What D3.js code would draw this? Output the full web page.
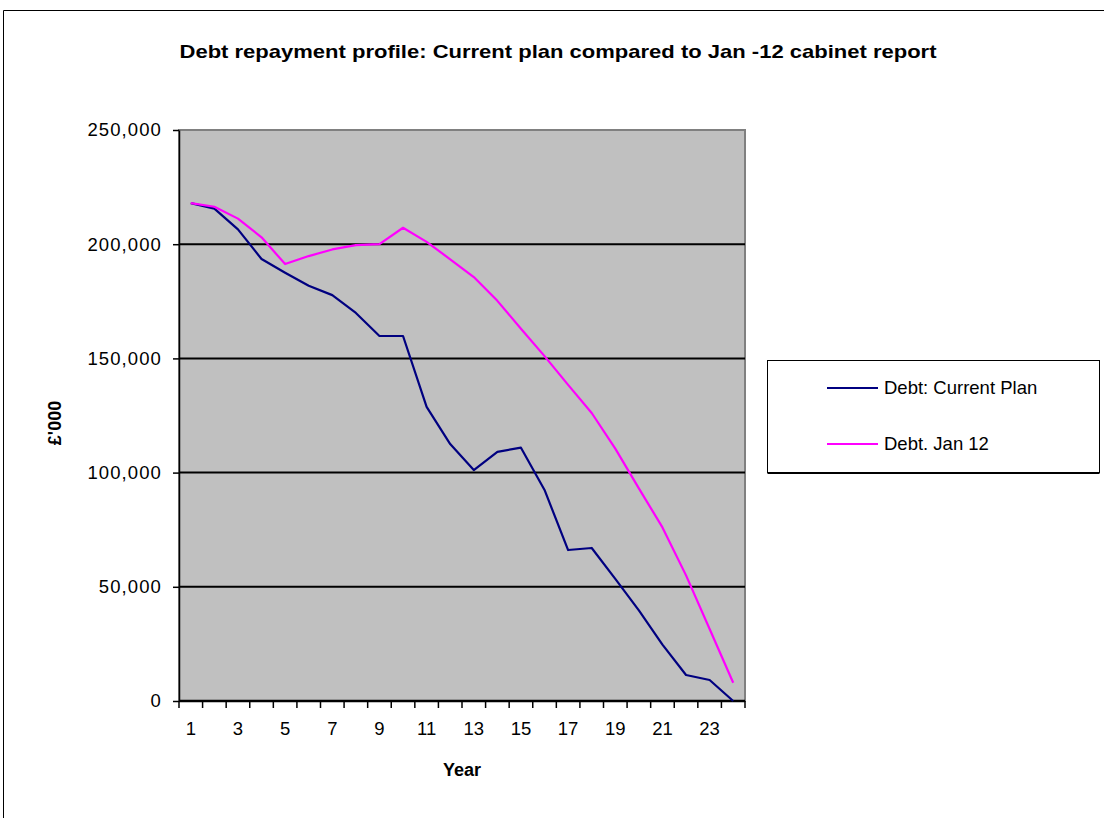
<!DOCTYPE html>
<html>
<head>
<meta charset="utf-8">
<script src="https://cdn.jsdelivr.net/npm/d3@7"></script>
<style>
  body { margin: 0; background: #fff; }
  text { font-family: "Liberation Sans", Arial, sans-serif; }
</style>
</head>
<body>
<div id="chart"></div>
<script>
const years = d3.range(1, 25);
const yTicks = [0, 50000, 100000, 150000, 200000, 250000];
const currentPlan = [218000, 215600, 206500, 193500, 187500, 181800, 177700, 169900, 159800, 159800,
  128800, 112500, 101100, 109100, 110900, 92400, 66100, 67000, 53500, 39700, 24700, 11400, 9200, 0];
const jan12 = [218000, 216400, 211200, 203000, 191300, 194800, 197700, 199600, 200000, 207200,
  201000, 193400, 185600, 175200, 163000, 151000, 138400, 126100, 110500, 93100, 76000, 55000, 31500, 8000];
const seriesNames = ['Debt: Current Plan', 'Debt. Jan 12'];
const colors = ['#000080', '#ff00ff'];

const W = 1104, H = 818;
const plot = { left: 179, top: 130, right: 745, bottom: 701 };

const svg = d3.select('#chart').append('svg')
  .attr('width', W)
  .attr('height', H);

// outer chart frame (clipped)
svg.append('path')
  .attr('d', `M3.5,${H} V10.5 H${W}`)
  .attr('fill', 'none')
  .attr('stroke', '#000')
  .attr('stroke-width', 1);

const x = d3.scaleBand()
  .domain(years)
  .range([plot.left, plot.right])
  .padding(0);

const y = d3.scaleLinear()
  .domain([0, 250000])
  .range([plot.bottom, plot.top]);

// plot background
svg.append('rect')
  .attr('x', plot.left)
  .attr('y', plot.top)
  .attr('width', plot.right - plot.left)
  .attr('height', plot.bottom - plot.top)
  .attr('fill', '#c0c0c0')
  .attr('stroke', '#808080')
  .attr('stroke-width', 2);

// gridlines
svg.append('g')
  .selectAll('line')
  .data(yTicks.filter(d => d > 0 && d < 250000))
  .enter().append('line')
  .attr('x1', plot.left)
  .attr('x2', plot.right)
  .attr('y1', d => y(d))
  .attr('y2', d => y(d))
  .attr('stroke', '#000')
  .attr('stroke-width', 2);

// y axis
const yAxis = svg.append('g')
  .attr('transform', `translate(${plot.left},0)`)
  .call(d3.axisLeft(y).tickValues(yTicks).tickFormat(d3.format(',')).tickSize(6).tickSizeOuter(0));
yAxis.select('.domain').attr('stroke', '#000').attr('stroke-width', 1.5);
yAxis.selectAll('.tick line').attr('stroke', '#000').attr('stroke-width', 1.5);
yAxis.selectAll('.tick text')
  .attr('x', -17)
  .attr('font-size', 18.5)
  .attr('letter-spacing', 1.1)
  .attr('font-family', '"Liberation Sans", Arial, sans-serif')
  .attr('fill', '#000');

// x axis: ticks between categories, labels on odd years
const xAxis = svg.append('g')
  .attr('transform', `translate(0,${plot.bottom})`);
xAxis.append('line')
  .attr('x1', plot.left)
  .attr('x2', plot.right)
  .attr('stroke', '#000')
  .attr('stroke-width', 2.5);
xAxis.selectAll('line.tk')
  .data(years.concat([25]))
  .enter().append('line')
  .attr('class', 'tk')
  .attr('x1', d => d <= 24 ? x(d) : plot.right)
  .attr('x2', d => d <= 24 ? x(d) : plot.right)
  .attr('y1', 0)
  .attr('y2', 7)
  .attr('stroke', '#000')
  .attr('stroke-width', 1.5);
xAxis.selectAll('text')
  .data(years.filter(d => d % 2 === 1))
  .enter().append('text')
  .attr('x', d => x(d) + x.bandwidth() / 2)
  .attr('y', 34)
  .attr('text-anchor', 'middle')
  .attr('font-size', 18.5)
  .text(d => d);

// lines
const line = d3.line()
  .x((d, i) => x(years[i]) + x.bandwidth() / 2)
  .y(d => y(d));

[currentPlan, jan12].forEach((s, k) => {
  svg.append('path')
    .datum(s)
    .attr('d', line)
    .attr('fill', 'none')
    .attr('stroke', colors[k])
    .attr('stroke-width', 2.2)
    .attr('stroke-linejoin', 'round');
});

// title
svg.append('text')
  .attr('x', 558)
  .attr('y', 58)
  .attr('text-anchor', 'middle')
  .attr('font-size', 19)
  .attr('font-weight', 'bold')
  .attr('textLength', 757)
  .attr('lengthAdjust', 'spacingAndGlyphs')
  .text('Debt repayment profile: Current plan compared to Jan -12 cabinet report');

// axis titles
svg.append('text')
  .attr('x', (plot.left + plot.right) / 2)
  .attr('y', 776)
  .attr('text-anchor', 'middle')
  .attr('font-size', 18)
  .attr('font-weight', 'bold')
  .text('Year');

svg.append('text')
  .attr('transform', 'translate(61,423) rotate(-90)')
  .attr('text-anchor', 'middle')
  .attr('font-size', 18)
  .attr('font-weight', 'bold')
  .text("£'000");

// legend
const legend = svg.append('g');
legend.append('rect')
  .attr('x', 767.5)
  .attr('y', 360.5)
  .attr('width', 332)
  .attr('height', 112)
  .attr('fill', '#fff')
  .attr('stroke', '#000')
  .attr('stroke-width', 1);
legend.append('line')
  .attr('x1', 767.5).attr('x2', 1099.5)
  .attr('y1', 473).attr('y2', 473)
  .attr('stroke', '#000').attr('stroke-width', 2);

const legendY = [388, 444];
seriesNames.forEach((name, k) => {
  legend.append('line')
    .attr('x1', 827)
    .attr('x2', 878)
    .attr('y1', legendY[k])
    .attr('y2', legendY[k])
    .attr('stroke', colors[k])
    .attr('stroke-width', 2.2);
  legend.append('text')
    .attr('x', 884)
    .attr('y', legendY[k] + 6)
    .attr('font-size', 18.5)
    .text(name);
});
</script>
</body>
</html>
